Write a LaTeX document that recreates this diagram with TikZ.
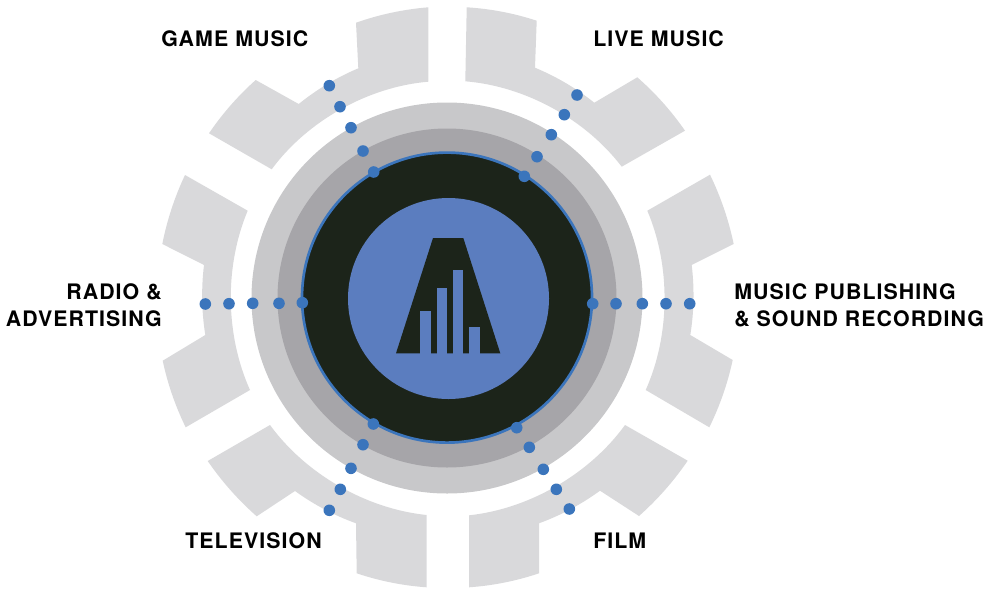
\documentclass[tikz,border=0pt]{standalone}
\usepackage{fontspec}
\usepackage{tikz}
\newfontfamily\labelfont[LetterSpace=5]{TeX Gyre Heros}

\begin{document}
\begin{tikzpicture}[x=0.75pt,y=0.75pt,yscale=-1,xscale=1,
        sector/.style={draw opacity=0,fill={rgb, 255:red, 217; green, 217; blue, 219 },fill opacity=1},
        cw/.style={bend right=#1,looseness=0.86},
        ccw/.style={bend left=#1,looseness=0.86},
        logobar/.style={draw opacity=0,fill={rgb, 255:red, 91; green, 125; blue, 191 },fill opacity=1},
        dot/.style={fill={rgb, 255:red, 59; green, 117; blue, 188 },fill opacity=1},
        labeltext/.style={inner sep=0pt,font=\labelfont\bfseries\fontsize{16}{20}\selectfont}]
        \useasboundingbox (0,0) rectangle (994,589);

        %Shape: Polygon [game music]
        \draw [sector] (271.7,169.3) to[cw=24.4] (428.3,81.7) -- (428.3,7.3) to[ccw=7.3] (356,22.7) -- (358.3,68.3) to[ccw=8] (298.7,104) -- (255.7,80) to[ccw=7] (209,133.3) -- cycle ;
        %Shape: Polygon [live music]
        \draw [sector] (465.3,81.3) to[cw=24] (621.7,166.7) -- (685,130.7) to[ccw=7] (637.3,77.3) -- (594.3,102.7) to[ccw=8] (535,67.7) -- (536.7,20.7) to[ccw=7.3] (466.7,7.3) -- cycle ;
        %Shape: Polygon [music publishing]
        \draw [sector] (647.3,210.7) to[cw=23.5] (645.7,390) -- (709.3,427.3) to[ccw=7] (732.7,360) -- (690.3,335) to[ccw=8] (691.7,265) -- (733.7,244) to[ccw=7] (710,174.7) -- cycle ;
        %Shape: Polygon [film]
        \draw [sector] (625,425) to[cw=24] (469,515.3) -- (469,587.3) to[ccw=7.3] (539,573.3) -- (539,523.3) to[ccw=8] (600,490.7) -- (639,516) to[ccw=7] (687.7,460.7) -- cycle ;
        %Shape: Polygon [television]
        \draw [sector] (426.7,515) to[cw=24] (270,425) -- (207.7,461) to[ccw=7] (256.7,516.3) -- (295,491) to[ccw=8] (356,523.3) -- (356.7,573.3) to[ccw=7.3] (426.7,587.3) -- cycle ;
        %Shape: Polygon [radio]
        \draw [sector] (250,390) to[cw=23.5] (247.7,210.7) -- (185,175) to[ccw=7] (162.3,244) -- (204,265) to[ccw=8] (205.3,335) -- (162.7,360.7) to[ccw=7] (185.7,427.3) -- cycle ;

        %Shape: Circle
        \draw [draw opacity=0][fill={rgb, 255:red, 200; green, 200; blue, 202 },fill opacity=1] (447,298) circle (195.5) ;
        %Shape: Circle
        \draw [draw opacity=0][fill={rgb, 255:red, 166; green, 165; blue, 169 },fill opacity=1] (447,298) circle (169.5) ;
        %Shape: Circle
        \draw [color={rgb, 255:red, 59; green, 117; blue, 188 },line width=2][fill={rgb, 255:red, 28; green, 36; blue, 26 },fill opacity=1] (447,297.6) circle (145) ;
        %Shape: Circle
        \draw [logobar] (448.5,298.5) circle (100.5) ;

        %Shape: Polygon [logo]
        \draw [draw opacity=0][fill={rgb, 255:red, 28; green, 36; blue, 26 },fill opacity=1] (433,238) -- (463.3,238) -- (500.3,353.3) -- (396,353.3) -- cycle ;
        %Shape: Rectangle
        \draw [logobar] (420.3,311.3) rectangle (430.7,353.6) ;
        %Shape: Rectangle
        \draw [logobar] (436.7,288) rectangle (447,353.6) ;
        %Shape: Rectangle
        \draw [logobar] (453,270.3) rectangle (463.3,353.6) ;
        %Shape: Rectangle
        \draw [logobar] (469.3,327) rectangle (479.7,353.6) ;

        % dots, game music
        \fill [dot] (329.3,85.7) circle (5.8) ;
        \fill [dot] (340,106.7) circle (5.8) ;
        \fill [dot] (351,127.7) circle (5.8) ;
        \fill [dot] (363,151) circle (5.8) ;
        \fill [dot] (373.7,172) circle (5.8) ;
        % dots, live music
        \fill [dot] (577,95) circle (5.8) ;
        \fill [dot] (564.3,114.7) circle (5.8) ;
        \fill [dot] (551.3,134.7) circle (5.8) ;
        \fill [dot] (537,156.7) circle (5.8) ;
        \fill [dot] (524.3,176.3) circle (5.8) ;
        % dots, music publishing
        \fill [dot] (592.7,303.7) circle (5.8) ;
        \fill [dot] (616,303.7) circle (5.8) ;
        \fill [dot] (642.3,303.7) circle (5.8) ;
        \fill [dot] (666,303.7) circle (5.8) ;
        \fill [dot] (689.7,303.7) circle (5.8) ;
        % dots, film
        \fill [dot] (516.7,427.7) circle (5.8) ;
        \fill [dot] (529.3,447.3) circle (5.8) ;
        \fill [dot] (543.3,469.3) circle (5.8) ;
        \fill [dot] (556.3,489.3) circle (5.8) ;
        \fill [dot] (569.3,509) circle (5.8) ;
        % dots, television
        \fill [dot] (373.3,424) circle (5.8) ;
        \fill [dot] (363,444.7) circle (5.8) ;
        \fill [dot] (351,468.3) circle (5.8) ;
        \fill [dot] (340.3,489.3) circle (5.8) ;
        \fill [dot] (329.3,510.3) circle (5.8) ;
        % dots, radio
        \fill [dot] (205.3,304) circle (5.8) ;
        \fill [dot] (229,303.7) circle (5.8) ;
        \fill [dot] (252.7,303.3) circle (5.8) ;
        \fill [dot] (279,303.3) circle (5.8) ;
        \fill [dot] (302.3,302.7) circle (5.8) ;

        % Text Node
        \draw (161,46.5) node (gamelabel) [anchor=base west,labeltext] {GAME MUSIC};
        % Text Node
        \draw (593,46.5) node (livelabel) [anchor=base west,labeltext] {LIVE MUSIC};
        % Text Node
        \draw (734,326) node (publishinglabel) [anchor=base west,labeltext,align=left] {MUSIC PUBLISHING\\\& SOUND RECORDING};
        % Text Node
        \draw (162,326) node (radiolabel) [anchor=base east,labeltext,align=right] {RADIO \&\\ADVERTISING};
        % Text Node
        \draw (185,548.5) node (televisionlabel) [anchor=base west,labeltext] {TELEVISION};
        % Text Node
        \draw (593,548.5) node (filmlabel) [anchor=base west,labeltext] {FILM};
\end{tikzpicture}
\end{document}
